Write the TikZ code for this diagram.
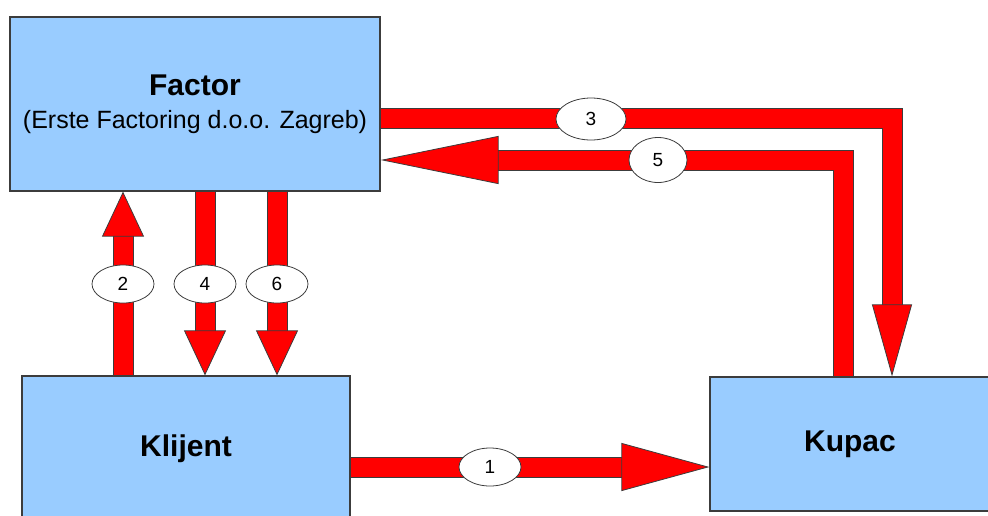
\documentclass[tikz,border=0pt]{standalone}
\usepackage{fontspec}
\setmainfont{Liberation Sans}
\usetikzlibrary{arrows.meta,shapes.geometric}
\definecolor{boxblue}{RGB}{153,204,255}
\definecolor{rimgray}{RGB}{60,60,60}

\begin{document}
\begin{tikzpicture}[x=1pt,y=-1pt]
    \tikzset{
      box/.style={draw=rimgray, line width=1.2pt, fill=boxblue, align=center,
        font=\bfseries\fontsize{30}{33}\selectfont},
      num/.style={ellipse, draw=rimgray, line width=0.8pt, fill=white, inner sep=0pt,
        minimum width=62pt, minimum height=38pt, font=\fontsize{19}{19}\selectfont},
      flow/.style={draw=red, line width=19pt, line join=miter,
        preaction={draw=rimgray, line width=21pt, -, shorten >=#1}},
      tip/.style 2 args={-{Triangle[width=#1, length=#2, line width=0.8pt, color=rimgray, fill=red]}}
    }
    \useasboundingbox (0,0) rectangle (988,515);

    \node[box, minimum width=370pt, minimum height=174pt] (factor) at (195,104)
      {Factor\\{\mdseries\fontsize{25}{28}\selectfont(Erste Factoring d.o.o. Zagreb)}};
    \node[box, minimum width=328pt, minimum height=146pt] (klijent) at (186,449) {Klijent};
    \node[box, minimum width=280pt, minimum height=134pt] (kupac) at (850,444) {Kupac};

    \coordinate (c3) at (892,118);
    \coordinate (c5) at (843,160);
    \coordinate (p1) at (490,467);
    \coordinate (p2) at (123,284);
    \coordinate (p4) at (205,284);
    \coordinate (p6) at (277,284);

    \draw[flow=87pt, tip={48pt}{88pt}] (p1 -| klijent.east) -- (p1 -| kupac.west);
    \draw[flow=44pt, tip={42pt}{45pt}] (p2 |- klijent.north) -- (p2 |- factor.south);
    \draw[flow=70pt, tip={40pt}{72pt}] (c3 -| factor.east) -- (c3) -- (c3 |- kupac.north);
    \draw[flow=44pt, tip={42pt}{45pt}] (p4 |- factor.south) -- (p4 |- klijent.north);
    \draw[flow=117pt, tip={48pt}{118pt}] (c5 |- kupac.north) -- (c5) -- (c5 -| factor.east);
    \draw[flow=44pt, tip={42pt}{45pt}] (p6 |- factor.south) -- (p6 |- klijent.north);

    \node[num] (l1) at (p1) {1};
    \node[num] (l2) at (p2) {2};
    \node[num, minimum width=70pt, minimum height=42pt] (l3) at (591,119) {3};
    \node[num] (l4) at (p4) {4};
    \node[num, minimum width=58pt, minimum height=45pt] (l5) at (658,160) {5};
    \node[num] (l6) at (p6) {6};
\end{tikzpicture}
\end{document}
